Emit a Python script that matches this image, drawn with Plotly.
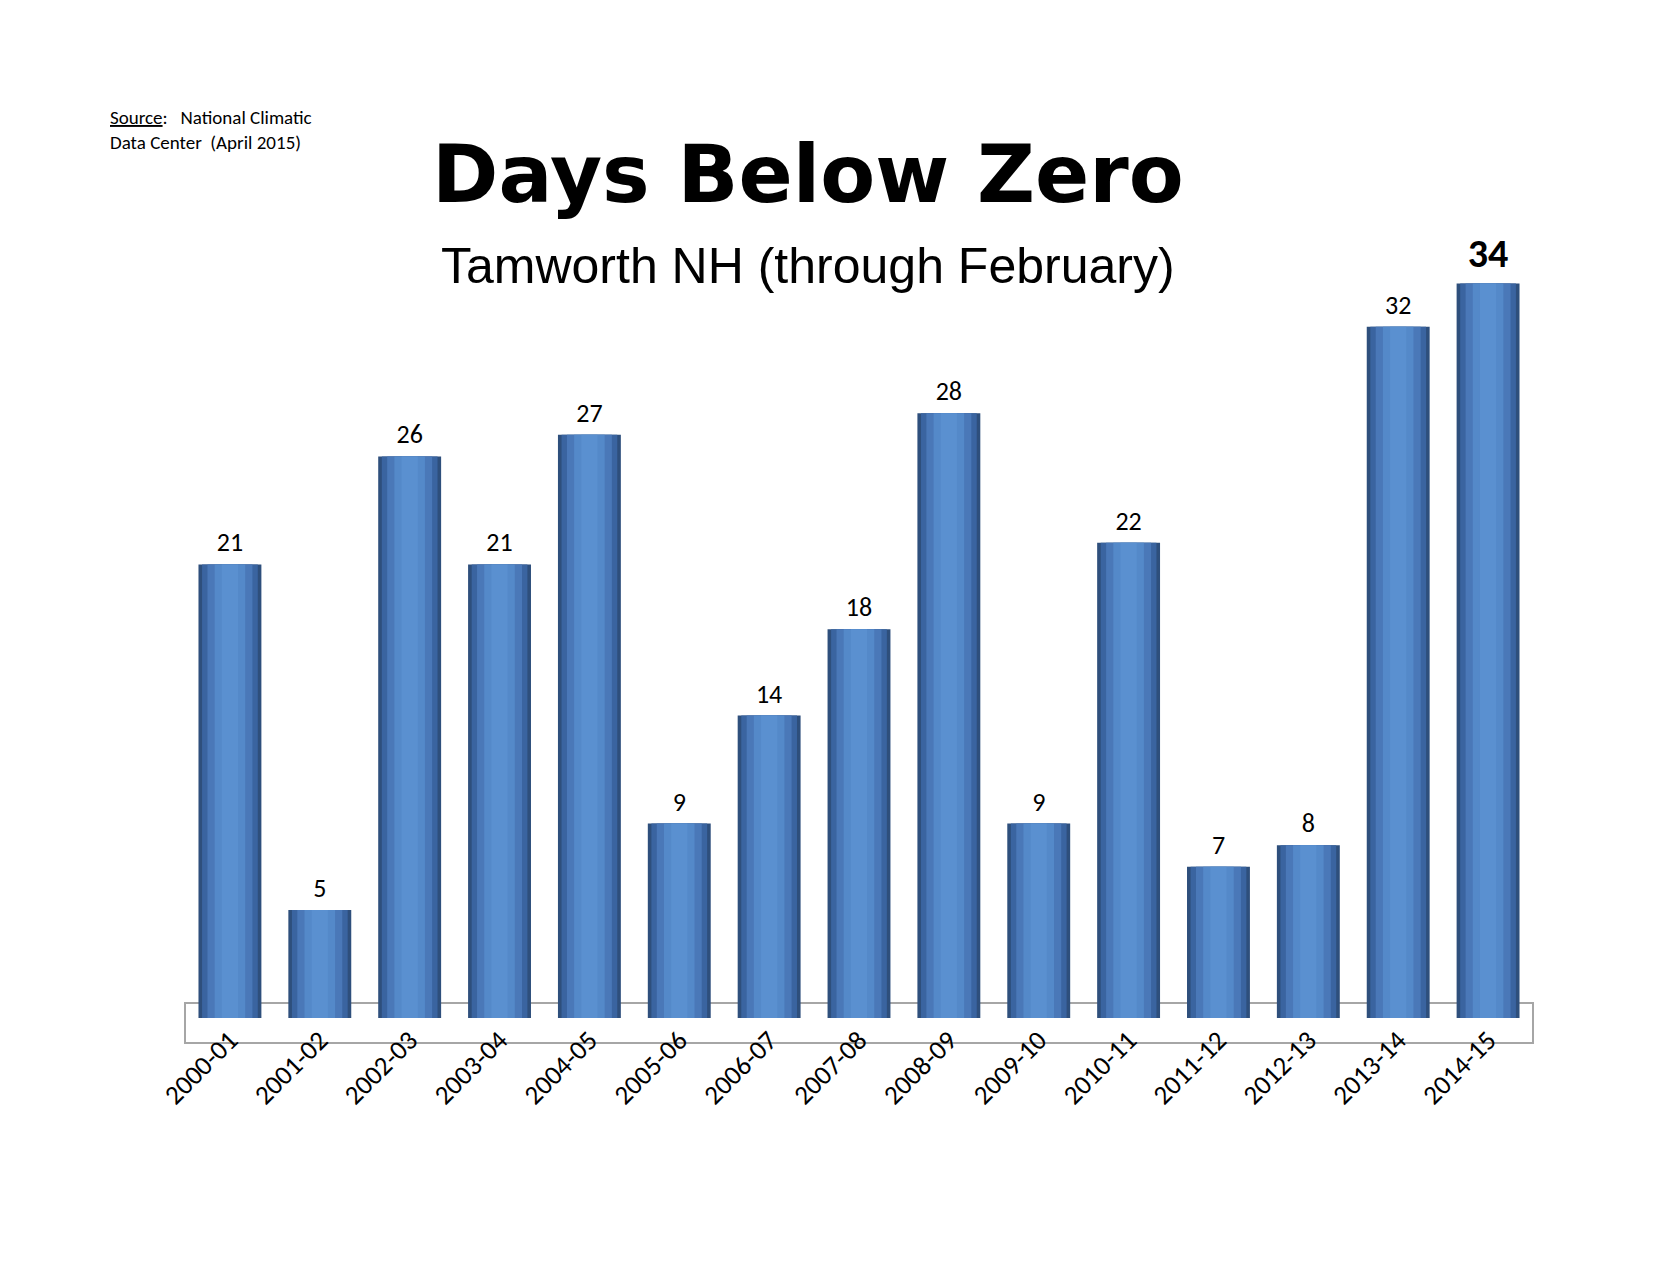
import plotly.graph_objects as go

seasons = ["2000-01","2001-02","2002-03","2003-04","2004-05","2005-06","2006-07","2007-08",
           "2008-09","2009-10","2010-11","2011-12","2012-13","2013-14","2014-15"]
days = [21,5,26,21,27,9,14,18,28,9,22,7,8,32,34]

W, H = 1662, 1284
L, R, T, B = 177, 1525, 230, 1010
def px(x): return (x - L) / (R - L)
def py(y): return (B - y) / (B - T)

fig = go.Figure()
for w, c in [(0.70, "#2E4F7C"), (0.62, "#3A64A0"), (0.50, "#4A78B8"), (0.34, "#5489C9"), (0.18, "#5A90D0")]:
    fig.add_trace(go.Bar(x=seasons, y=days, width=w, marker=dict(color=c, line=dict(width=0)),
                         hoverinfo="skip", showlegend=False))
texts = [str(v) for v in days[:-1]] + ["<b>%d</b>" % days[-1]]
sizes = [26]*(len(days)-1) + [40]
fig.add_trace(go.Scatter(x=seasons, y=[v+0.3 for v in days], mode="text", text=texts,
                         textposition="top center",
                         textfont=dict(size=sizes, color="black", family="Carlito, Liberation Sans"),
                         showlegend=False, hoverinfo="skip"))

fig.update_layout(
    width=W, height=H, barmode="overlay", plot_bgcolor="white", paper_bgcolor="white",
    margin=dict(l=L, r=W-R, t=T, b=H-B),
    xaxis=dict(type="category", showline=False, ticks="", tickangle=-45,
               tickfont=dict(size=27, color="black", family="Carlito, Liberation Sans"),
               range=[-0.5, 14.5]),
    yaxis=dict(visible=False, range=[0, (B-T)/21.6]),
    shapes=[
        dict(type="rect", xref="paper", yref="paper", x0=0, x1=1, y0=py(1035), y1=py(995),
             line=dict(color="#A6A6A6", width=2), fillcolor="rgba(0,0,0,0)", layer="below"),
    ],
    annotations=[
        dict(text="<b>Days Below Zero</b>", x=px(800), y=py(166), xref="paper", yref="paper",
             showarrow=False, font=dict(size=80, family="DejaVu Sans", color="black"),
             xanchor="center", yanchor="middle"),
        dict(text="Tamworth NH (through February)", x=px(800), y=py(258), xref="paper", yref="paper",
             showarrow=False, font=dict(size=50, family="Liberation Sans", color="black"),
             xanchor="center", yanchor="middle"),
        dict(text="<u>Source</u>:   National Climatic<br>Data Center  (April 2015)", x=px(100), y=py(96),
             xref="paper", yref="paper", showarrow=False, align="left",
             font=dict(size=19, family="Carlito, Liberation Sans", color="black"),
             xanchor="left", yanchor="top"),
    ],
)
fig.write_html("out.html")
